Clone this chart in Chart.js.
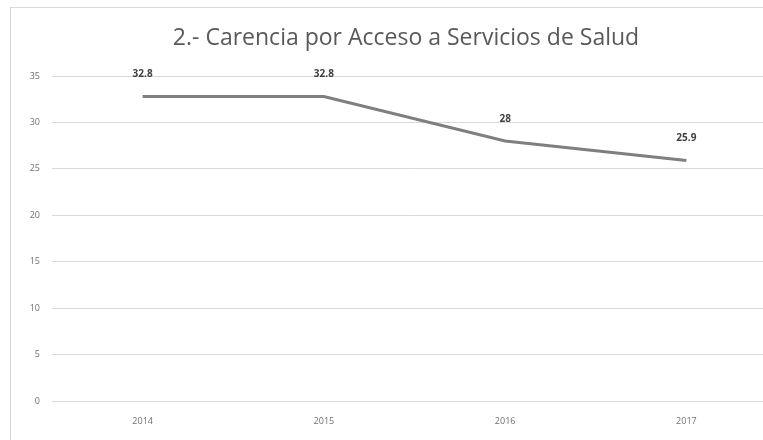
<!DOCTYPE html>
<html><head><meta charset="utf-8">
<script src="https://cdn.jsdelivr.net/npm/chart.js@4/dist/chart.umd.min.js"></script>
<style>
html,body{margin:0;padding:0;background:#fff;overflow:hidden;width:763px;height:440px;}
#wrap{position:absolute;left:10px;top:7px;width:790px;height:440px;border-left:1px solid #d9d9d9;border-top:1px solid #d9d9d9;}
</style></head><body>
<div id="wrap"><canvas id="c" width="790" height="433"></canvas></div>
<script>
const categories = ["2014","2015","2016","2017"];
const values = [32.8, 32.8, 28, 25.9];
const valueLabels = ["32.8","32.8","28","25.9"];
const yTicks = [0,5,10,15,20,25,30,35];
const titleText = "2.- Carencia por Acceso a Servicios de Salud";

const labelPlugin = {
  id:'vlabels',
  afterDatasetsDraw(chart){
    const ctx = chart.ctx;
    const meta = chart.getDatasetMeta(0);
    ctx.save();
    ctx.font = 'bold 10px "Open Sans", sans-serif';
    ctx.fillStyle = '#404040';
    ctx.textAlign = 'center';
    ctx.textBaseline = 'middle';
    meta.data.forEach((p,i)=>{ ctx.fillText(valueLabels[i], p.x, p.y - 22); });
    // chart title centred on the whole chart frame
    ctx.font = '23px "Open Sans", sans-serif';
    ctx.fillStyle = '#595959';
    ctx.fillText(titleText, chart.width/2, 30);
    ctx.restore();
  }
};

new Chart(document.getElementById('c'), {
  type:'line',
  data:{labels:categories, datasets:[{data:values, borderColor:'#7f7f7f', borderWidth:3, pointRadius:0, fill:false, tension:0}]},
  options:{
    responsive:false, animation:false,
    layout:{padding:{left:7,right:24,top:68,bottom:0}},
    plugins:{
      legend:{display:false}, tooltip:{enabled:false}, title:{display:false}
    },
    scales:{
      x:{offset:true, grid:{display:false, drawTicks:false}, border:{display:false},
         ticks:{color:'#707070', font:{family:'"Open Sans", sans-serif', size:9}, padding:15},
         afterFit(s){ s.height = 40; }},
      y:{min:0, max:35, afterBuildTicks(s){ s.ticks = yTicks.map(v=>({value:v})); },
         grid:{color:'#d9d9d9', drawTicks:false, lineWidth:1}, border:{display:false},
         ticks:{color:'#707070', font:{family:'"Open Sans", sans-serif', size:9}, padding:12},
         afterFit(s){ s.width = 34; }}
    }
  },
  plugins:[labelPlugin]
});
</script></body></html>
